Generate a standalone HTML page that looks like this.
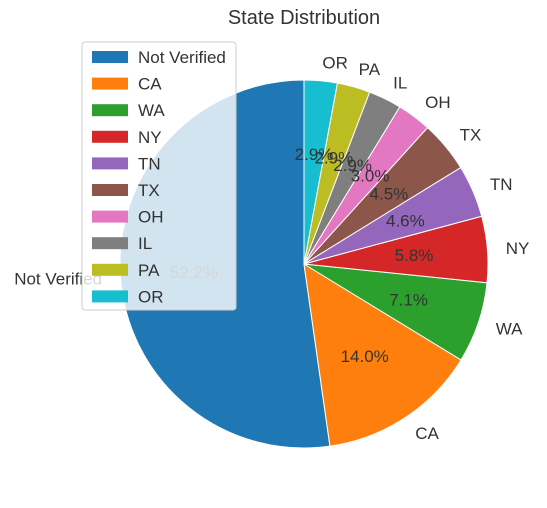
<!DOCTYPE html>
<html><head><meta charset="utf-8"><style>
body{margin:0;background:#fff;}
svg text{font-family:"Liberation Sans","DejaVu Sans",sans-serif;fill:#333;}
</style></head><body>
<svg id="chart" width="547" height="503" viewBox="0 0 547 503">
<text x="304" y="24" font-size="20" text-anchor="middle">State Distribution</text>
<g id="pie"></g>
<g id="labels"></g>
<g id="legend"></g>
</svg>
<script>
const categories=["Not Verified","CA","WA","NY","TN","TX","OH","IL","PA","OR"];
const values=[52.2,14.0,7.1,5.8,4.6,4.5,3.0,2.9,2.9,2.9];
const colors=["#1f77b4","#ff7f0e","#2ca02c","#d62728","#9467bd","#8c564b","#e377c2","#7f7f7f","#bcbd22","#17becf"];
const NS="http://www.w3.org/2000/svg";
const cx=304,cy=264,R=184;
const total=values.reduce((a,b)=>a+b,0);
const pie=document.getElementById('pie'),lab=document.getElementById('labels'),leg=document.getElementById('legend');
function pt(r,a){return [cx+r*Math.cos(a*Math.PI/180),cy-r*Math.sin(a*Math.PI/180)];}
let ang=90;
values.forEach((v,i)=>{
  const sweep=v/total*360,a1=ang+sweep;
  const p0=pt(R,ang),p1=pt(R,a1);
  const path=document.createElementNS(NS,'path');
  path.setAttribute('d',`M${cx},${cy} L${p0[0]},${p0[1]} A${R},${R} 0 ${sweep>180?1:0} 0 ${p1[0]},${p1[1]} Z`);
  path.setAttribute('fill',colors[i]);path.setAttribute('stroke','#fff');path.setAttribute('stroke-width','1');
  
  
  pie.appendChild(path);
  const mid=ang+sweep/2;
  const lp=pt(R*1.1,mid);
  const t=document.createElementNS(NS,'text');
  t.setAttribute('x',lp[0]);t.setAttribute('y',lp[1]+6);t.setAttribute('font-size','17');
  t.setAttribute('text-anchor',lp[0]>cx?'start':'end');
  t.textContent=categories[i];
  
  
  lab.appendChild(t);
  const pp=pt(R*0.6,mid);
  const q=document.createElementNS(NS,'text');
  q.setAttribute('x',pp[0]);q.setAttribute('y',pp[1]+6);q.setAttribute('font-size','17');q.setAttribute('text-anchor','middle');
  q.textContent=v.toFixed(1)+'%';
  
  
  lab.appendChild(q);
  ang=a1;
});
const box=document.createElementNS(NS,'rect');
box.setAttribute('x',82);box.setAttribute('y',42);box.setAttribute('width',154);box.setAttribute('height',268);box.setAttribute('rx',3);
box.setAttribute('fill','rgba(255,255,255,0.8)');box.setAttribute('stroke','#ccc');


leg.appendChild(box);
categories.forEach((c,i)=>{
  const y=57+i*26.6;
  const r=document.createElementNS(NS,'rect');
  r.setAttribute('x',92);r.setAttribute('y',y-6);r.setAttribute('width',36);r.setAttribute('height',12);r.setAttribute('fill',colors[i]);
  
  
  leg.appendChild(r);
  const t=document.createElementNS(NS,'text');
  t.setAttribute('x',138);t.setAttribute('y',y+6);t.setAttribute('font-size','17');t.textContent=c;
  
  
  leg.appendChild(t);
});
</script>
</body></html>
